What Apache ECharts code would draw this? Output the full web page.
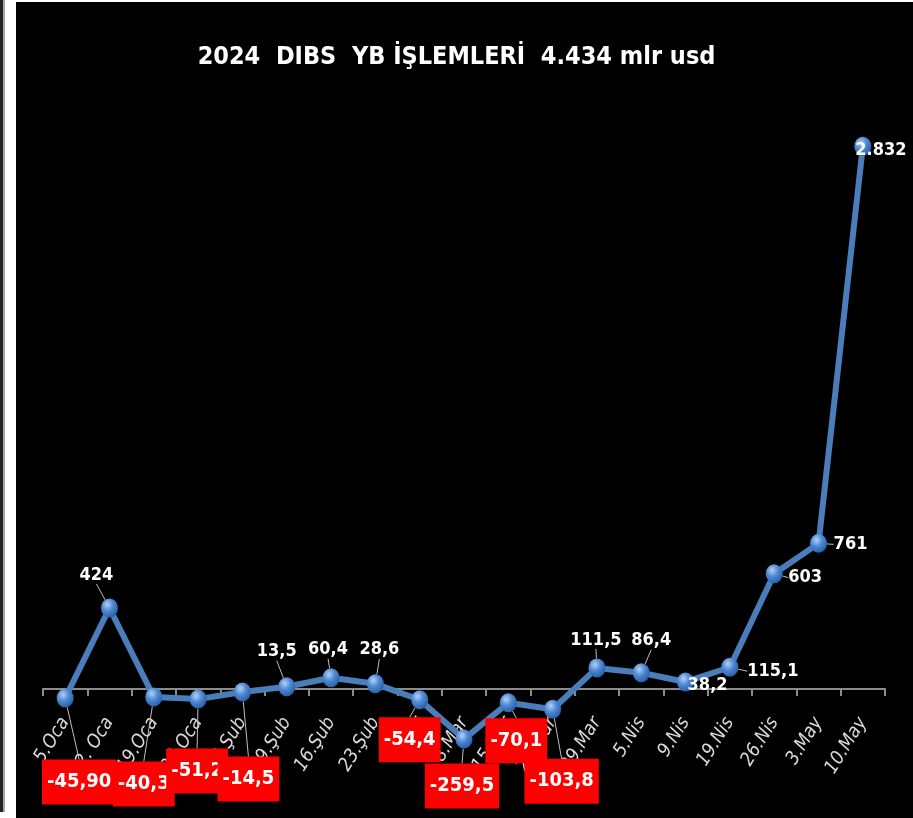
<!DOCTYPE html>
<html>
<head>
<meta charset="utf-8">
<script src="https://cdn.jsdelivr.net/npm/echarts@6/dist/echarts.min.js"></script>
<style>
  html, body { margin: 0; padding: 0; background: #fff; }
  #chart { width: 913px; height: 818px; }
</style>
</head>
<body>
<div id="chart"></div>
<script>
// haftalar
const weeks = ['5.Oca', '12. Oca', '19.Oca', '26.Oca', '2.Şub', '9.Şub', '16.Şub', '23.Şub', '1.Mar', '8.Mar',
  '15.Mar', '23.Mar', '29.Mar', '5.Nis', '9.Nis', '19.Nis', '26.Nis', '3.May', '10.May']
// milyon usd
const flows = [-45.9, 424, -40.3, -51.2, -14.5, 13.5, 60.4, 28.6, -54.4, -259.5,
  -70.1, -103.8, 111.5, 86.4, 38.2, 115.1, 603, 761, 2832]
const flowLabels = ['-45,90', '424', '-40,3', '-51,2', '-14,5', '13,5', '60,4', '28,6', '-54,4', '-259,5',
  '-70,1', '-103,8', '111,5', '86,4', '38,2', '115,1', '603', '761', '2.832']

const FONT = '"DejaVu Sans Condensed", "DejaVu Sans", sans-serif'

// etiket kaydirmalari (nokta merkezinden)
const shifts = [[14, 84], [-13, -33], [-10, 87], [-1, 72], [6, 87], [-10, -35], [-3, -28], [4, -34], [-10, 40], [-2, 47],
  [8, 38], [9, 72], [-1, -28], [10, -32], [22, 3], [43, 4], [31, 4], [32, 1], [18, 4]]

const chart = echarts.init(document.getElementById('chart'))

const ball = new echarts.graphic.RadialGradient(0.38, 0.32, 0.75, [
  { offset: 0, color: '#b4d0f2' },
  { offset: 0.45, color: '#4f8ad6' },
  { offset: 1, color: '#24589e' }
])

chart.setOption({
  backgroundColor: '#000',
  animation: false,
  graphic: [
    { type: 'rect', shape: { x: 0, y: 0, width: 16, height: 818 }, style: { fill: '#fff' }, z: 100 },
    { type: 'rect', shape: { x: 0, y: 0, width: 913, height: 2 }, style: { fill: '#fff' }, z: 100 },
    { type: 'rect', shape: { x: 0, y: 0, width: 3, height: 812 }, style: { fill: '#222' }, z: 101 },
    { type: 'rect', shape: { x: 3, y: 0, width: 2, height: 812 }, style: { fill: '#a6a6a6' }, z: 101 }
  ],
  title: {
    text: '2024  DIBS  YB İŞLEMLERİ  4.434 mlr usd',
    left: 'center',
    top: 40,
    textStyle: { color: '#fff', fontFamily: FONT, fontWeight: 'bold', fontSize: 25 }
  },
  grid: { left: 43, right: 28, top: 114, bottom: 52, outerBoundsMode: 'none' },
  xAxis: {
    type: 'category',
    data: weeks,
    boundaryGap: true,
    offset: -77,
    axisLine: { onZero: false, lineStyle: { color: '#8c8c8c', width: 2 } },
    axisTick: { show: true, length: 7, lineStyle: { color: '#8c8c8c', width: 2 } },
    axisLabel: {
      interval: 0,
      rotate: 58,
      margin: 30,
      color: '#d9d9d9',
      fontFamily: FONT,
      fontStyle: 'italic',
      fontSize: 19
    }
  },
  yAxis: {
    type: 'value',
    min: -400,
    max: 3000,
    show: false,
    splitLine: { show: false }
  },
  series: [{
    type: 'line',
    data: flows,
    symbol: 'circle',
    symbolSize: [17, 19],
    lineStyle: { color: '#4a7ebb', width: 6 },
    itemStyle: { color: ball, borderWidth: 0 },
    z: 5,
    label: {
      show: true,
      position: 'inside',
      fontFamily: FONT,
      fontWeight: 'bold',
      fontSize: 18,
      color: '#fff',
      formatter: p => flowLabels[p.dataIndex]
    },
    labelLine: { show: true, lineStyle: { color: '#bfbfbf', width: 1 } },
    labelLayout: p => ({ dx: shifts[p.dataIndex][0], dy: shifts[p.dataIndex][1] }),
    data: flows.map(v => v < 0 ? {
      value: v,
      label: { backgroundColor: '#ff0000', padding: [13, 5, 12, 5], fontSize: 20 }
    } : v)
  }]
})
</script>
</body>
</html>
